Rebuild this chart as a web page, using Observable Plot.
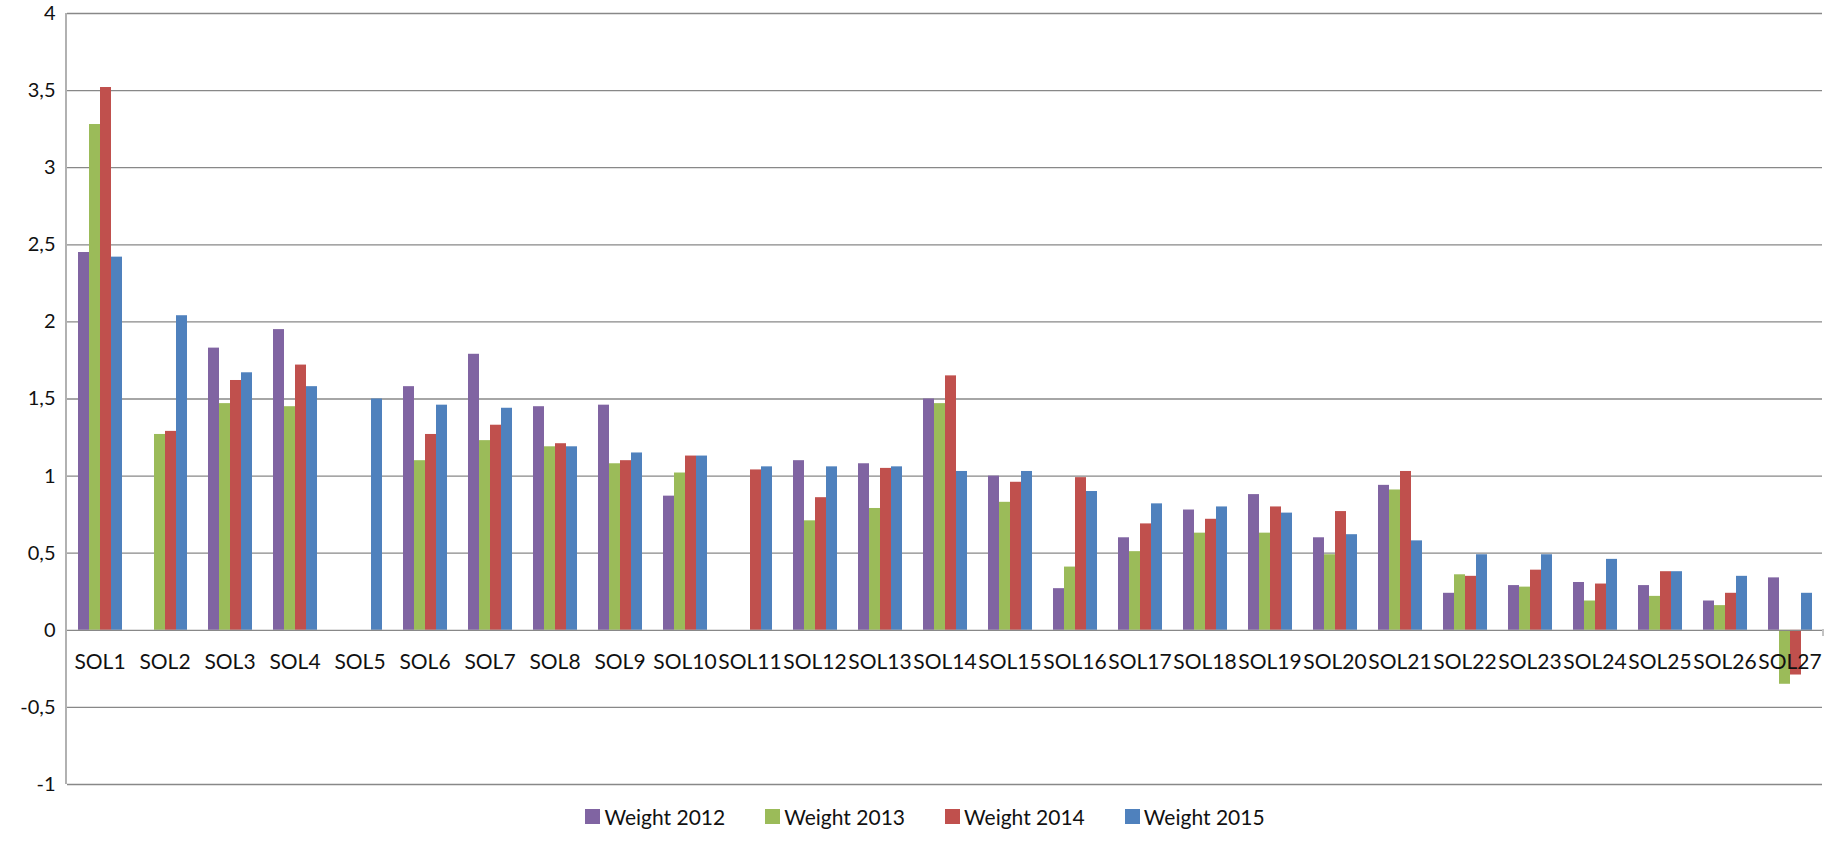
<!DOCTYPE html>
<html><head><meta charset="utf-8">
<script src="https://cdn.jsdelivr.net/npm/d3@7"></script>
<script src="https://cdn.jsdelivr.net/npm/@observablehq/plot@0.6"></script>
<style>
body{margin:0;background:#fff;font-family:Lato,sans-serif;}
#legend{display:flex;justify-content:center;gap:40px;font-size:21px;color:#111;margin-top:4px;padding-left:14px}
#legend span{display:inline-flex;align-items:center;gap:4px}
#legend i{display:inline-block;width:15px;height:15px}
</style></head><body>
<div id="chart"></div>
<div id="legend"></div>
<script>
const categories = Array.from({length:27},(_,i)=>"SOL"+(i+1));
const series = ["Weight 2012","Weight 2013","Weight 2014","Weight 2015"];
const colors = ["#8064A2","#9BBB59","#C0504D","#4F81BD"];
const w2012 = [2.45,null,1.83,1.95,null,1.58,1.79,1.45,1.46,0.87,null,1.10,1.08,1.50,1.00,0.27,0.60,0.78,0.88,0.60,0.94,0.24,0.29,0.31,0.29,0.19,0.34];
const w2013 = [3.28,1.27,1.47,1.45,null,1.10,1.23,1.19,1.08,1.02,null,0.71,0.79,1.47,0.83,0.41,0.51,0.63,0.63,0.49,0.91,0.36,0.28,0.19,0.22,0.16,-0.35];
const w2014 = [3.52,1.29,1.62,1.72,null,1.27,1.33,1.21,1.10,1.13,1.04,0.86,1.05,1.65,0.96,0.99,0.69,0.72,0.80,0.77,1.03,0.35,0.39,0.30,0.38,0.24,-0.29];
const w2015 = [2.42,2.04,1.67,1.58,1.50,1.46,1.44,1.19,1.15,1.13,1.06,1.06,1.06,1.03,1.03,0.90,0.82,0.80,0.76,0.62,0.58,0.49,0.49,0.46,0.38,0.35,0.24];
const yTicks = [-1,-0.5,0,0.5,1,1.5,2,2.5,3,3.5,4];

const all = [w2012,w2013,w2014,w2015];
const data = [];
categories.forEach((c,i)=>series.forEach((s,j)=>{ if(all[j][i]!=null) data.push({cat:c,series:s,value:all[j][i]}); }));
const catData = categories.map(c=>({cat:c}));

const chart = Plot.plot({
  width:1836, height:800,
  marginLeft:66, marginRight:13, marginTop:13, marginBottom:16,
  style:{fontFamily:"Lato, sans-serif", fontSize:"20px", color:"#111", overflow:"visible"},
  fx:{domain:categories, padding:0, axis:null},
  x:{domain:series, paddingInner:0, paddingOuter:0.72, axis:null},
  y:{domain:[-1,4], ticks:yTicks, tickFormat:d=>String(d).replace(".",","), tickSize:0, tickPadding:12, label:null},
  color:{domain:series, range:colors},
  marks:[
    Plot.ruleY(yTicks.filter(d=>d!==0), {stroke:"#888", strokeWidth:1.3, strokeOpacity:1}),
    Plot.barY(data,{fx:"cat", x:"series", y:"value", fill:"series", inset:0}),
    Plot.ruleY([0],{stroke:"#888", strokeWidth:1.3}),
    Plot.tickX(catData,{fx:"cat", frameAnchor:"left", y1:0, y2:-0.04, stroke:"#888"}),
    Plot.text(catData,{fx:"cat", y:0, text:"cat", dy:32, fontSize:21, fill:"#111"}),
  ]
});
document.getElementById("chart").appendChild(chart);
const svg = d3.select(chart);
svg.append("line").attr("x1",66).attr("x2",66).attr("y1",13).attr("y2",784).attr("stroke","#888").attr("stroke-width",1.3);
svg.append("line").attr("x1",1823).attr("x2",1823).attr("y1",629).attr("y2",636).attr("stroke","#888");
const lg = document.getElementById("legend");
series.forEach((s,i)=>{lg.insertAdjacentHTML("beforeend",`<span><i style="background:${colors[i]}"></i>${s}</span>`);});
</script></body></html>
